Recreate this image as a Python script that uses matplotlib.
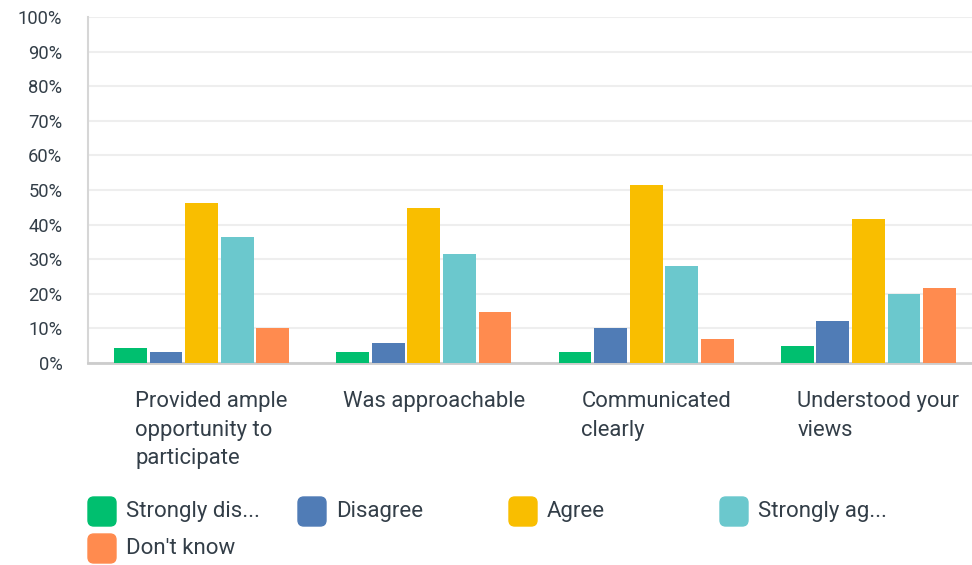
import numpy as np
import matplotlib
matplotlib.use("Agg")
from matplotlib import pyplot as plt
from matplotlib.patches import FancyBboxPatch

plt.rcParams['font.family'] = ['Roboto', 'DejaVu Sans']

categories = ["Provided ample\nopportunity to\nparticipate", "Was approachable",
              "Communicated\nclearly", "Understood your\nviews"]
series = ["Strongly dis...", "Disagree", "Agree", "Strongly ag...", "Don't know"]
strongly_disagree = [4.3, 3.2, 3.2, 4.9]
disagree = [3.2, 5.8, 10.1, 12.1]
agree = [46.2, 44.8, 51.4, 41.6]
strongly_agree = [36.4, 31.5, 28.0, 19.9]
dont_know = [10.1, 14.7, 6.9, 21.7]
colors = ["#00BF6F", "#507CB6", "#F9BE00", "#6BC8CD", "#FF8B4F"]

values = [strongly_disagree, disagree, agree, strongly_agree, dont_know]
W, H = 972, 565
text_col = '#333e48'

fig = plt.figure(figsize=(W / 100, H / 100), dpi=100)
ax = fig.add_axes([88 / W, 1 - 363 / H, 1 - 88 / W, (363 - 17) / H])

x = np.arange(len(categories))
step = 0.16
width = 0.148
for i, (vals, c) in enumerate(zip(values, colors)):
    ax.bar(x + (i - 2) * step, vals, width, color=c, zorder=3)

ax.set_xlim(-0.511, 3.466)
ax.set_ylim(0, 100)
ax.set_yticks(np.arange(0, 101, 10))
ax.set_yticklabels([f"{v}%" for v in range(0, 101, 10)])
ax.grid(axis='y', color='#eeeeee', linewidth=1.5, zorder=0)
ax.tick_params(axis='y', length=0, pad=18.5, labelsize=13.2, labelcolor=text_col)
ax.set_xticks([])
for s in ['top', 'right']:
    ax.spines[s].set_visible(False)
ax.spines['left'].set_color('#d6d6d6')
ax.spines['left'].set_linewidth(1.5)
ax.spines['bottom'].set_color('#cccccc')
ax.spines['bottom'].set_linewidth(2)

for xi, cat in zip(x, categories):
    ax.text(xi + 0.045, -8.2, cat, ha='center', va='top', multialignment='left',
            fontsize=15.8, color=text_col, linespacing=1.45)

# legend, row-major like the source
legend_cols = [88, 298, 509, 720]
legend_rows = [511, 548]
for k, (name, c) in enumerate(zip(series, colors)):
    lx = legend_cols[k % 4]
    ly = legend_rows[k // 4]
    box = FancyBboxPatch((lx / W, 1 - (ly + 15) / H), 28 / W, 29 / H,
                         boxstyle="round,pad=0,rounding_size=0.006",
                         transform=fig.transFigure, facecolor=c, edgecolor=c,
                         mutation_aspect=W / H)
    fig.add_artist(box)
    fig.text((lx + 38) / W, 1 - (ly + 1) / H, name, ha='left', va='center',
             fontsize=16, color=text_col)

fig.savefig("out.png", dpi=100)
